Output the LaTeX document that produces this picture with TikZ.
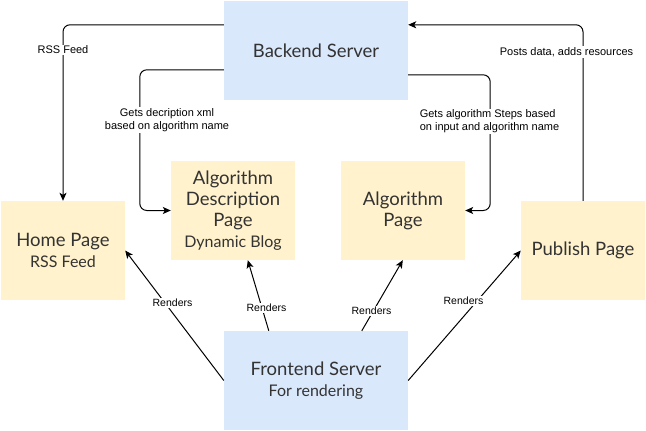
\documentclass[tikz,border=0pt]{standalone}
\usepackage{fontspec}
\setmainfont{Lato}
\newfontfamily\lblfont{Liberation Sans}
\usetikzlibrary{arrows.meta}
\definecolor{bluefill}{HTML}{DAE8FC}
\definecolor{yellowfill}{HTML}{FFF2CC}
\definecolor{boxtext}{HTML}{333333}
\newcommand{\subtext}[1]{{\fontsize{16}{20.5}\selectfont #1}}
\begin{document}
\begin{tikzpicture}[x=1pt,y=-1pt,
  box/.style={draw=none, inner sep=0pt, align=center, text=boxtext,
    font=\fontsize{18.5}{20.8}\selectfont},
  bluebox/.style={box, fill=bluefill, minimum width=184pt, minimum height=99pt},
  yellowbox/.style={box, fill=yellowfill, minimum width=124pt, minimum height=99pt},
  conn/.style={draw=black, line width=1pt, -{Stealth[length=8pt,width=7pt,inset=2pt]}},
  orth/.style={conn, rounded corners=7pt},
  lbl/.style={fill=white, inner sep=1pt, text=black, font=\lblfont\fontsize{11}{13}\selectfont},
  smalllbl/.style={lbl, font=\lblfont\fontsize{10.5}{12}\selectfont}
]
\useasboundingbox (0,0) rectangle (646,431);

\node[bluebox] (be) at (316,50.5) {Backend Server};
\node[bluebox] (fe) at (316,380.5) {Frontend Server\\\subtext{For rendering}};
\node[yellowbox] (home) at (63,250.5) {Home Page\\\subtext{RSS Feed}};
\node[yellowbox] (ad) at (233,210.5) {Algorithm\\Description\\Page\\\subtext{Dynamic Blog}};
\node[yellowbox] (ap) at (403,210.5) {Algorithm\\Page};
\node[yellowbox] (pp) at (583,250.5) {Publish Page};

% orthogonal connectors
\draw[orth] ([yshift=-24pt]be.north west) -| (home.north);
\node[lbl] (l1) at (63,50) {RSS Feed};
\draw[orth] ([yshift=-69pt]be.north west) -| ([xshift=-31pt]ad.west) -- (ad.west);
\node[lbl, align=center] (l2) at (167,120) {Gets decription xml\\based on algorithm name};
\draw[orth] ([yshift=-74pt]be.north east) -| ([xshift=25pt]ap.east) -- (ap.east);
\node[lbl, align=left] (l3) at (489.5,121.5) {Gets algorithm Steps based\\on input and algorithm name};
\draw[orth] (pp.north) |- ([yshift=-24pt]be.north east);
\node[lbl] (l4) at (566.5,52) {Posts data, adds resources};

% render connectors
\draw[conn] (fe.west) -- (home.east);
\node[smalllbl] (r1) at (172.5,303) {Renders};
\draw[conn] ([xshift=45pt]fe.north west) -- ([xshift=77pt]ad.south west);
\node[smalllbl] (r2) at (266.5,308) {Renders};
\draw[conn] ([xshift=138pt]fe.north west) -- ([xshift=62pt]ap.south west);
\node[smalllbl] (r3) at (371.5,311) {Renders};
\draw[conn] (fe.east) -- (pp.west);
\node[smalllbl] (r4) at (463.5,301) {Renders};
\end{tikzpicture}
\end{document}
